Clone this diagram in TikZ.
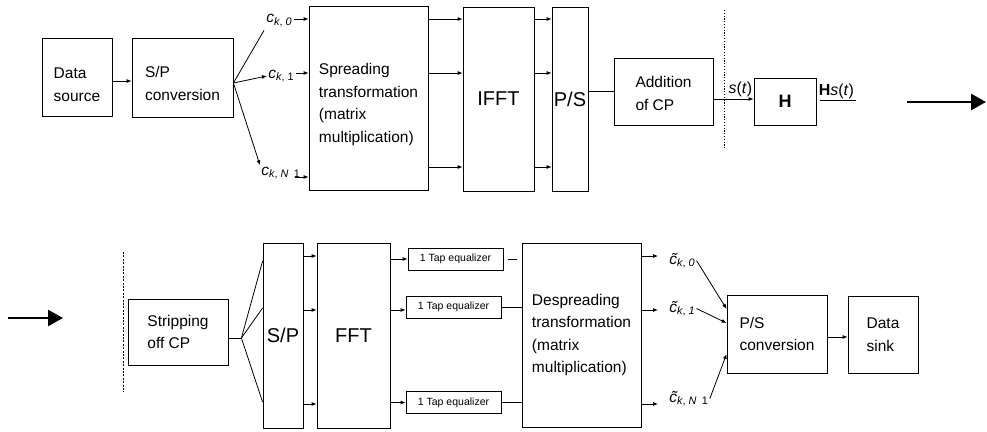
\documentclass[tikz,border=0pt]{standalone}
\usepackage{fontspec}
\setmainfont{Liberation Sans}
\usetikzlibrary{arrows.meta}

\newcommand{\csub}[1]{\textit{c}\textsubscript{#1}}
\newcommand{\ctsub}[1]{\leavevmode\rlap{\kern0.14em\textit{\char"02DC}}\textit{c}\textsubscript{#1}}

\begin{document}
\begin{tikzpicture}[x=1pt, y=-1pt, line width=0.8pt, >={Latex[length=5pt,width=4pt]},
  blk/.style={draw, align=left, inner sep=0pt, font=\fontsize{15.5}{22.5}\selectfont},
  big/.style={draw, inner sep=0pt, font=\fontsize{20}{24}\selectfont},
  eqz/.style={draw, inner sep=0pt, minimum width=95pt, minimum height=22pt, font=\fontsize{10.5}{12}\selectfont},
  sym/.style={inner sep=1pt, font=\fontsize{15.5}{18}\selectfont},
  lowtxt/.style={execute at begin node={\rule{0pt}{#1}}},
  fat/.style={line width=2.6pt, -{Triangle[length=15pt,width=16pt]}}]
	\useasboundingbox (0,0) rectangle (987,431);
	% transmitter
	\node[blk, minimum width=70pt, minimum height=78pt, lowtxt=49pt] (src) at (77,77) {Data\\source};
	\node[blk, minimum width=101pt, minimum height=79pt, lowtxt=46pt] (sp1) at (182.5,77.5) {S/P\\conversion};
	\node[blk, minimum width=119pt, minimum height=184pt, lowtxt=92pt] (spr) at (368.5,98) {Spreading\\transformation\\(matrix\\multiplication)};
	\node[big, minimum width=71pt, minimum height=184pt] (ifft) at (498.5,99) {IFFT};
	\node[big, minimum width=36pt, minimum height=184pt] (ps1) at (570,99) {P/S};
	\node[blk, minimum width=99pt, minimum height=67pt, lowtxt=38pt] (add) at (663.5,91.5) {Addition\\of CP};
	\node[draw, minimum width=62pt, minimum height=47pt, font=\fontsize{18}{20}\selectfont\bfseries] (h) at (785,101.5) {H};
	\node[sym, anchor=base west] (ck0) at (265,23) {\csub{\textit{k}, \textit{0}}};
	\node[sym, anchor=base west] (ck1) at (267,78) {\csub{\textit{k}, 1}};
	\node[sym, anchor=base west] (ckN) at (260,175) {\csub{\textit{k}, \textit{N}\enspace1}};
	\coordinate (r1) at (0,19);
	\coordinate (r2) at (0,73);
	\coordinate (r3) at (0,167);
	\coordinate (r3in) at (0,177);
	\draw[->] ([yshift=-4pt]src.east) -- ([yshift=-4pt]src.east -| sp1.west);
	\coordinate (fan1) at ([yshift=-5.5pt]sp1.east);
	\draw[shorten >=2pt] (fan1) -- (ck0.south west);
	\draw[->] (fan1) -- (ck1.west);
	\draw[->] (fan1) -- (ckN.north west);
	\draw[->] (ck0.east |- r1) -- (spr.west |- r1);
	\draw[->] (ck1.east |- r2) -- (spr.west |- r2);
	\draw[->] ([xshift=-7pt]ckN.east |- r3in) -- (spr.west |- r3in);
	\foreach \r in {r1,r2,r3} {
		\draw[->] (spr.east |- \r) -- (ifft.west |- \r);
		\draw[->] (ifft.east |- \r) -- (ps1.west |- \r);
	}
	\draw (add.west -| ps1.east) -- (add.west);
	\coordinate (hin) at ([yshift=2.5pt]h.west);
	\draw[->] (add.east |- hin) -- (hin);
	\node[sym, anchor=south east, font=\fontsize{16}{18}\selectfont] (st) at ([yshift=1pt]hin) {\textit{s}(\textit{t})};
	\coordinate (hout) at ([xshift=40pt,yshift=1.5pt]h.east);
	\draw[shorten <=4pt] ([yshift=1.5pt]h.east) -- (hout) node[midway, above, sym, font=\fontsize{16}{18}\selectfont] (hst) {\textbf{H}\textit{s}(\textit{t})};
	\coordinate (cut1a) at (724,10);
	\coordinate (cut1b) at (724,149);
	\draw[line width=0.7pt, dash pattern=on 1.2pt off 1.6pt] (cut1a) -- (cut1b);
	\coordinate (go1) at (907,102);
	\coordinate (go2) at (986,102);
	\draw[fat] (go1) -- (go2);
	% receiver
	\coordinate (ret1) at (8,318);
	\coordinate (ret2) at (63,318);
	\draw[fat] (ret1) -- (ret2);
	\coordinate (cut2a) at (123,252);
	\coordinate (cut2b) at (123,392);
	\draw[line width=0.7pt, dash pattern=on 2pt off 1.4pt] (cut2a) -- (cut2b);
	\node[blk, minimum width=100pt, minimum height=66pt] (strip) at (178,332) {Stripping\\off CP};
	\node[big, minimum width=40pt, minimum height=185pt] (sp2) at (283,335.5) {S/P};
	\node[big, minimum width=73pt, minimum height=185pt] (fft) at (353.5,335.5) {FFT};
	\node[eqz] (eq1) at (455.5,259) {1 Tap equalizer};
	\node[eqz] (eq2) at (453.5,307) {1 Tap equalizer};
	\node[eqz] (eq3) at (453.5,402.5) {1 Tap equalizer};
	\node[blk, minimum width=119pt, minimum height=184pt] (desp) at (581.5,335) {Despreading\\transformation\\(matrix\\multiplication)};
	\node[blk, minimum width=100pt, minimum height=78pt] (ps2) at (777,334) {P/S\\conversion};
	\node[blk, minimum width=70pt, minimum height=77pt] (sink) at (883,334.5) {Data\\sink};
	\node[sym, anchor=base west] (ct0) at (668,264) {\ctsub{\textit{k}, \textit{0}}};
	\node[sym, anchor=base west] (ct1) at (668,312) {\ctsub{\textit{k}, \textit{1}}};
	\node[sym, anchor=base west] (ctN) at (668,402) {\ctsub{\textit{k}, \textit{N}\enspace1}};
	\coordinate (s1) at (0,256);
	\coordinate (s2) at (0,310);
	\coordinate (s3) at (0,404);
	\coordinate (t1) at (0,261);
	\coordinate (t2) at (0,308);
	\coordinate (t3) at (0,402);
	\coordinate (fan2) at ([xshift=13pt,yshift=-6pt]strip.east);
	\draw ([yshift=-6pt]strip.east) -- (fan2);
	\foreach \t in {t1,t2,t3}
		\draw (fan2) -- (sp2.west |- \t);
	\foreach \s in {s1,s2,s3}
		\draw[->] (sp2.east |- \s) -- (fft.west |- \s);
	\draw[->] (fft.east |- eq1) -- (eq1.west);
	\draw[->] (fft.east |- s2) -- (eq2.west |- s2);
	\draw[->] (fft.east |- eq3) -- (eq3.west);
	\draw[shorten <=5pt, shorten >=5pt] (eq1.east) -- (eq1.east -| desp.west);
	\draw (eq2.east) -- (eq2.east -| desp.west);
	\draw (eq3.east) -- (eq3.east -| desp.west);
	\draw[->, shorten >=10pt] (desp.east |- s1) -- (ct0.west |- s1);
	\draw[->, shorten >=10pt] (desp.east |- s2) -- (ct1.west |- s2);
	\draw[->, shorten >=10pt] (desp.east |- s3) -- (ctN.west |- s3);
	\draw[->] (ct0.east) -- ([yshift=25pt]ps2.west);
	\draw[->] (ct1.east) -- ([yshift=11pt]ps2.west);
	\draw[->] (ctN.east) -- ([yshift=-20pt]ps2.west);
	\draw[->] ([yshift=-3pt]ps2.east) -- ([yshift=-3pt]ps2.east -| sink.west);
\end{tikzpicture}
\end{document}
